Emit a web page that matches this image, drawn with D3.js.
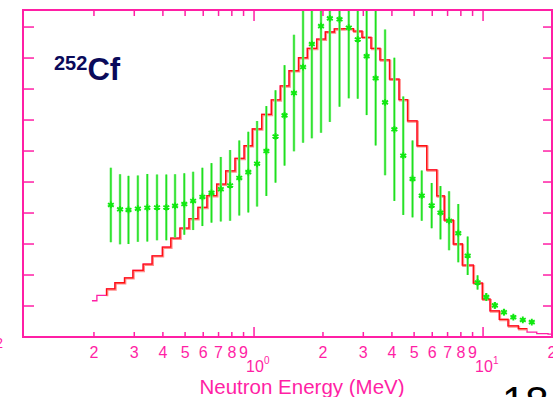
<!DOCTYPE html>
<html>
<head>
<meta charset="utf-8">
<script src="https://cdn.jsdelivr.net/npm/d3@7"></script>
<style>
  html, body { margin: 0; padding: 0; background: #fff; }
  svg { display: block; font-family: "Liberation Sans", Arial, sans-serif; }
</style>
</head>
<body>
<div id="chart"></div>
<script>
// calculated spectrum, histogram bin edges (MeV) and bin contents
const binEdges = [0.196, 0.206, 0.227, 0.247, 0.272, 0.296, 0.328, 0.359, 0.398, 0.433,
  0.475, 0.520, 0.569, 0.623, 0.687, 0.752, 0.826, 0.905, 0.983, 1.080,
  1.190, 1.302, 1.422, 1.564, 1.709, 1.878, 2.048, 2.242, 2.467, 2.715,
  2.962, 3.243, 3.549, 3.905, 4.297, 4.681, 5.150, 5.677, 6.279, 6.770,
  7.419, 8.123, 9.072, 9.930, 10.73, 11.78, 12.86, 14.26, 15.56, 17.16,
  19.22, 20.0];
const calcValues = [0.117, 0.134, 0.155, 0.175, 0.191, 0.215, 0.235, 0.262, 0.290, 0.319,
  0.351, 0.382, 0.418, 0.456, 0.493, 0.536, 0.576, 0.617, 0.671, 0.718,
  0.765, 0.810, 0.859, 0.901, 0.931, 0.961, 0.984, 0.994, 0.995, 0.987,
  0.967, 0.931, 0.894, 0.832, 0.766, 0.697, 0.617, 0.539, 0.455, 0.377,
  0.300, 0.232, 0.174, 0.122, 0.084, 0.057, 0.036, 0.027, 0.016, 0.011,
  0.009];

// measured points with errors
const measEnergy = [0.237, 0.260, 0.283, 0.311, 0.342, 0.377, 0.414, 0.452, 0.496, 0.542,
  0.595, 0.652, 0.716, 0.786, 0.862, 0.944, 1.031, 1.132, 1.241, 1.359,
  1.494, 1.637, 1.788, 1.961, 2.143, 2.362, 2.592, 2.837, 3.102, 3.396,
  3.734, 4.100, 4.483, 4.921, 5.399, 5.965, 6.517, 7.105, 7.794, 8.566,
  9.462, 10.33, 11.26, 12.34, 13.56, 14.91, 16.32];
const measValues = [0.426, 0.412, 0.410, 0.414, 0.417, 0.418, 0.418, 0.423, 0.429, 0.439,
  0.452, 0.465, 0.477, 0.489, 0.513, 0.532, 0.559, 0.600, 0.647, 0.715,
  0.787, 0.871, 0.945, 1.003, 1.028, 1.025, 0.998, 0.960, 0.906, 0.835,
  0.757, 0.670, 0.585, 0.510, 0.456, 0.424, 0.401, 0.375, 0.335, 0.262,
  0.176, 0.129, 0.102, 0.080, 0.064, 0.055, 0.048];
const measErrors = [0.120, 0.113, 0.110, 0.107, 0.109, 0.106, 0.106, 0.102, 0.099, 0.094,
  0.094, 0.096, 0.104, 0.114, 0.121, 0.130, 0.138, 0.145, 0.149, 0.162,
  0.188, 0.244, 0.304, 0.344, 0.334, 0.282, 0.228, 0.191, 0.190, 0.217,
  0.235, 0.231, 0.191, 0.124, 0.081, 0.073, 0.086, 0.095, 0.094, 0.062,
  0.023, 0.013, 0.011, 0.010, 0.007, 0.006, 0.006];

// axis ticks
const minorTicks = [0.2, 0.3, 0.4, 0.5, 0.6, 0.7, 0.8, 0.9, 2, 3, 4, 5, 6, 7, 8, 9, 20];
const minorLabels = ['2', '3', '4', '5', '6', '7', '8', '9', '2', '3', '4', '5', '6', '7', '8', '9', '2'];
const majorTicks = [1, 10];
const majorExp = ['0', '1'];
const yTicks = [0.1, 0.2, 0.3, 0.4, 0.5, 0.6, 0.7, 0.8, 0.9, 1.0];

const W = 553, H = 397;
const pink = '#ff1fa5';
const pLeft = 23, pRight = 552, pTop = 10, pBottom = 337;

const svg = d3.select('#chart').append('svg')
  .attr('width', W)
  .attr('height', H);

const x = d3.scaleLog().domain([0.098, 20]).range([pLeft, pRight]);
const y = d3.scaleLinear().domain([0, 1.055]).range([pBottom, pTop]);

svg.append('clipPath').attr('id', 'plot')
  .append('rect')
  .attr('x', pLeft).attr('y', pTop)
  .attr('width', pRight - pLeft).attr('height', pBottom - pTop);

const plot = svg.append('g').attr('clip-path', 'url(#plot)');

// histogram points
const histPts = [];
calcValues.forEach((v, i) => {
  histPts.push([binEdges[i], v]);
  histPts.push([binEdges[i + 1], v]);
});
const line = d3.line().x(d => x(d[0])).y(d => y(d[1]));

plot.append('path')
  .attr('d', line(histPts))
  .attr('fill', 'none')
  .attr('stroke', pink)
  .attr('stroke-width', 1.3);

// red part of the histogram
const redPts = [[binEdges[2], calcValues[1]]];
for (let i = 2; i <= 47; i++) {
  redPts.push([binEdges[i], calcValues[i]]);
  redPts.push([binEdges[i + 1], calcValues[i]]);
}
redPts.push([binEdges[48], calcValues[47]]);

plot.append('path')
  .attr('d', line(redPts))
  .attr('transform', 'translate(0.8,0.8)')
  .attr('fill', 'none')
  .attr('stroke', '#ff8c8c')
  .attr('stroke-width', 2);
plot.append('path')
  .attr('d', line(redPts))
  .attr('fill', 'none')
  .attr('stroke', '#ff1010')
  .attr('stroke-width', 1.3);

// error bars
const meas = measEnergy.map((e, i) => ({ e: e, v: measValues[i], err: measErrors[i] }));

plot.selectAll('.errhalo').data(meas)
  .enter().append('line')
  .attr('class', 'errhalo')
  .attr('x1', d => x(d.e)).attr('x2', d => x(d.e))
  .attr('y1', d => y(d.v + d.err)).attr('y2', d => y(d.v - d.err))
  .attr('stroke', '#8ef08e')
  .attr('stroke-width', 2.6);
plot.selectAll('.err').data(meas)
  .enter().append('line')
  .attr('class', 'err')
  .attr('x1', d => x(d.e)).attr('x2', d => x(d.e))
  .attr('y1', d => y(d.v + d.err)).attr('y2', d => y(d.v - d.err))
  .attr('stroke', '#1ee01e')
  .attr('stroke-width', 1.3);

const star = d3.symbol().type(d3.symbolAsterisk).size(32);
plot.selectAll('.pt').data(meas)
  .enter().append('path')
  .attr('class', 'pt')
  .attr('d', star)
  .attr('transform', d => 'translate(' + x(d.e) + ',' + y(d.v) + ')')
  .attr('fill', 'none')
  .attr('stroke', '#10e810')
  .attr('stroke-width', 1.9);

// frame
svg.append('rect')
  .attr('x', pLeft).attr('y', pTop)
  .attr('width', pRight - pLeft).attr('height', pBottom - pTop)
  .attr('fill', 'none')
  .attr('stroke', pink)
  .attr('stroke-width', 2);

// x ticks, bottom and top, pointing inward
const ticksG = svg.append('g').attr('stroke', pink).attr('stroke-width', 1.5);
minorTicks.forEach(t => {
  ticksG.append('line').attr('x1', x(t)).attr('x2', x(t)).attr('y1', pBottom).attr('y2', pBottom - 5);
  ticksG.append('line').attr('x1', x(t)).attr('x2', x(t)).attr('y1', pTop).attr('y2', pTop + 6);
});
majorTicks.forEach(t => {
  ticksG.append('line').attr('x1', x(t)).attr('x2', x(t)).attr('y1', pBottom).attr('y2', pBottom - 10);
  ticksG.append('line').attr('x1', x(t)).attr('x2', x(t)).attr('y1', pTop).attr('y2', pTop + 11);
});
// y ticks, left and right
yTicks.forEach(t => {
  ticksG.append('line').attr('x1', pLeft).attr('x2', pLeft + 11).attr('y1', y(t)).attr('y2', y(t));
  ticksG.append('line').attr('x1', pRight).attr('x2', pRight - 9).attr('y1', y(t)).attr('y2', y(t));
});

// tick labels
svg.selectAll('.minlab').data(minorTicks)
  .enter().append('text')
  .attr('class', 'minlab')
  .attr('x', d => x(d))
  .attr('y', 358)
  .attr('text-anchor', 'middle')
  .attr('font-size', 16)
  .attr('fill', pink)
  .text((d, i) => minorLabels[i]);

majorTicks.forEach((t, i) => {
  svg.append('text')
    .attr('x', x(t) - 8).attr('y', 372)
    .attr('font-size', 16).attr('fill', pink)
    .text('10');
  svg.append('text')
    .attr('x', x(t) + 10).attr('y', 364)
    .attr('font-size', 10).attr('fill', pink)
    .text(majorExp[i]);
});

// clipped label at the far left
svg.append('text')
  .attr('x', 3).attr('y', 348)
  .attr('text-anchor', 'end')
  .attr('font-size', 14).attr('fill', pink)
  .text('2');

// axis title
svg.append('text')
  .attr('x', 302).attr('y', 394)
  .attr('text-anchor', 'middle')
  .attr('font-size', 20.5).attr('fill', pink)
  .text('Neutron Energy (MeV)');

// isotope label
const iso = svg.append('text')
  .attr('x', 54).attr('y', 80)
  .attr('font-weight', 'bold')
  .attr('fill', '#0a0a5a');
iso.append('tspan').attr('font-size', 20).attr('dy', -10).text('252');
iso.append('tspan').attr('font-size', 31).attr('dy', 10).text('Cf');

// page number, cut by the bottom edge
svg.append('text')
  .attr('x', 502).attr('y', 416)
  .attr('font-size', 42).attr('fill', '#000')
  .text('18');
</script>
</body>
</html>
